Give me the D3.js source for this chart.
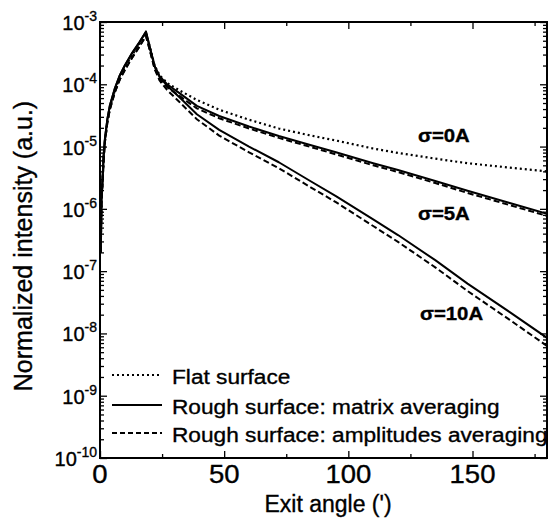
<!DOCTYPE html>
<html>
<head>
<meta charset="utf-8">
<script src="https://cdn.jsdelivr.net/npm/d3@7"></script>
<style>
  body { margin: 0; background: #fff; }
  text { font-family: "Liberation Sans", Arial, sans-serif; fill: #000; stroke: #000; stroke-width: 0.35px; }
</style>
</head>
<body>
<div id="chart"></div>
<script>
// exit angle (deg) shared by all curves
var angles = [0.3, 0.6, 1, 1.5, 2, 3, 4, 6, 8, 10, 13, 16, 18.5, 20, 22, 24, 27, 32, 39, 48, 60, 72, 85, 95, 110, 120, 135, 148, 165, 180];

// flat surface, sigma = 0A (dotted)
var flat0 = [2e-7, 1.4e-6, 2.6e-6, 7e-6, 1.25e-5, 2.6e-5, 4.2e-5, 8e-5, 1.3e-4, 1.85e-4, 3e-4, 4.5e-4, 6.7e-4,
             4.1e-4, 2.0e-4, 1.4e-4, 1.05e-4, 8e-5, 5.6e-5, 3.9e-5, 2.7e-5, 1.95e-5, 1.5e-5, 1.25e-5, 9.3e-6, 7.9e-6, 6.4e-6, 5.4e-6, 4.6e-6, 4.0e-6];

// rough surface, matrix averaging (solid)
var matrix5 = [2e-7, 1.5e-6, 2.9e-6, 7.5e-6, 1.35e-5, 2.8e-5, 4.6e-5, 8.6e-5, 1.4e-4, 2e-4, 3.2e-4, 4.8e-4, 7e-4,
               4e-4, 1.95e-4, 1.35e-4, 1e-4, 7.2e-5, 4.5e-5, 3.1e-5, 2.1e-5, 1.48e-5, 1.05e-5, 8.1e-6, 5.4e-6, 4.2e-6, 2.8e-6, 1.95e-6, 1.24e-6, 8.3e-7];
var matrix10 = [2e-7, 1.5e-6, 2.9e-6, 7.5e-6, 1.35e-5, 2.8e-5, 4.6e-5, 8.6e-5, 1.4e-4, 2e-4, 3.2e-4, 4.8e-4, 7e-4,
                4e-4, 1.95e-4, 1.3e-4, 9.5e-5, 6.2e-5, 3.3e-5, 1.85e-5, 1.0e-5, 5.6e-6, 2.75e-6, 1.6e-6, 6.8e-7, 3.8e-7, 1.5e-7, 6.3e-8, 2.2e-8, 8.5e-9];

// rough surface, amplitudes averaging (dashed)
var ampl5 = [2e-7, 1.3e-6, 2.5e-6, 6.6e-6, 1.2e-5, 2.5e-5, 4e-5, 7.5e-5, 1.2e-4, 1.7e-4, 2.7e-4, 4.1e-4, 6.0e-4,
             3.6e-4, 1.8e-4, 1.22e-4, 9e-5, 6.5e-5, 4.1e-5, 2.85e-5, 1.95e-5, 1.38e-5, 9.8e-6, 7.5e-6, 5.0e-6, 3.9e-6, 2.6e-6, 1.8e-6, 1.15e-6, 7.7e-7];
var ampl10 = [2e-7, 1.3e-6, 2.5e-6, 6.6e-6, 1.2e-5, 2.5e-5, 4e-5, 7.5e-5, 1.2e-4, 1.7e-4, 2.7e-4, 4.1e-4, 6.0e-4,
              3.6e-4, 1.75e-4, 1.15e-4, 8.1e-5, 5.2e-5, 2.75e-5, 1.5e-5, 8.1e-6, 4.5e-6, 2.2e-6, 1.28e-6, 5.3e-7, 2.95e-7, 1.15e-7, 4.8e-8, 1.65e-8, 6.3e-9];

var xTicks = [0, 50, 100, 150];
var xMinor = [25, 75, 125, 175];
var yExponents = [-3, -4, -5, -6, -7, -8, -9, -10];

var legendLabels = ["Flat surface", "Rough surface: matrix averaging", "Rough surface: amplitudes averaging"];
var sigmaLabels = ["\u03c3=0A", "\u03c3=5A", "\u03c3=10A"];

var W = 550, H = 529;
var plot = {left: 100, right: 547, top: 22, bottom: 458};

var svg = d3.select("#chart").append("svg")
    .attr("width", W)
    .attr("height", H);

var x = d3.scaleLinear().domain([0, 180]).range([plot.left, plot.right]);
var y = d3.scaleLog().domain([1e-10, 1e-3]).range([plot.bottom, plot.top]);

svg.append("clipPath").attr("id", "clip")
    .append("rect")
    .attr("x", plot.left).attr("y", plot.top)
    .attr("width", plot.right - plot.left)
    .attr("height", plot.bottom - plot.top);

// minor log ticks
var yMinor = [];
for (var e = -10; e < -3; e++) {
    for (var k = 2; k <= 9; k++) yMinor.push(k * Math.pow(10, e));
}
var yMajor = yExponents.map(function(p) { return Math.pow(10, p); });

function tickAxis(axis, tx, ty) {
    var g = svg.append("g")
        .attr("transform", "translate(" + tx + "," + ty + ")")
        .call(axis);
    g.select(".domain").remove();
    g.selectAll("line").attr("stroke", "#000").attr("stroke-width", 1.3);
    g.selectAll("text").remove();
    return g;
}

tickAxis(d3.axisBottom(x).tickValues(xTicks).tickSize(-7).tickFormat(""), 0, plot.bottom);
tickAxis(d3.axisBottom(x).tickValues(xMinor).tickSize(-4).tickFormat(""), 0, plot.bottom);
tickAxis(d3.axisTop(x).tickValues(xTicks).tickSize(-7).tickFormat(""), 0, plot.top);
tickAxis(d3.axisTop(x).tickValues(xMinor).tickSize(-4).tickFormat(""), 0, plot.top);
tickAxis(d3.axisLeft(y).tickValues(yMajor).tickSize(-7).tickFormat(""), plot.left, 0);
tickAxis(d3.axisLeft(y).tickValues(yMinor).tickSize(-4).tickFormat(""), plot.left, 0);
tickAxis(d3.axisRight(y).tickValues(yMajor).tickSize(-7).tickFormat(""), plot.right, 0);
tickAxis(d3.axisRight(y).tickValues(yMinor).tickSize(-4).tickFormat(""), plot.right, 0);

// curves
var line = d3.line()
    .x(function(d) { return x(d[0]); })
    .y(function(d) { return y(d[1]); });

var series = [
    {values: flat0, dash: "2,3", width: 2.2},
    {values: matrix5, dash: null, width: 2},
    {values: matrix10, dash: null, width: 2},
    {values: ampl5, dash: "6,3", width: 2},
    {values: ampl10, dash: "6,3", width: 2}
];

var curves = svg.append("g").attr("clip-path", "url(#clip)");
series.forEach(function(s) {
    curves.append("path")
        .datum(angles.map(function(a, i) { return [a, s.values[i]]; }))
        .attr("d", line)
        .attr("fill", "none")
        .attr("stroke", "#000")
        .attr("stroke-width", s.width)
        .attr("stroke-linejoin", "round")
        .attr("stroke-dasharray", s.dash);
});

// frame
svg.append("rect")
    .attr("x", plot.left).attr("y", plot.top)
    .attr("width", plot.right - plot.left)
    .attr("height", plot.bottom - plot.top)
    .attr("fill", "none")
    .attr("stroke", "#000")
    .attr("stroke-width", 2);

// helper for slightly widened text, like the scanned figure
function label(parent, str, tx, ty, size, sx, anchor, weight) {
    return parent.append("text")
        .attr("transform", "translate(" + tx + "," + ty + ") scale(" + sx + ",1)")
        .attr("text-anchor", anchor || "start")
        .style("font-size", size + "px")
        .style("font-weight", weight || "normal")
        .text(str);
}

// x tick labels
xTicks.forEach(function(v) {
    label(svg, String(v), x(v), 483, 25, 1.1, "middle");
});

// y tick labels 10^n
yExponents.forEach(function(p) {
    var t = svg.append("text")
        .attr("x", 97)
        .attr("y", y(Math.pow(10, p)) + 8)
        .attr("text-anchor", "end")
        .style("font-size", "20px");
    t.append("tspan").text("10");
    t.append("tspan").attr("dy", -9).style("font-size", "14px").text(String(p));
});

// axis titles
svg.append("text")
    .attr("x", 328).attr("y", 512)
    .attr("text-anchor", "middle")
    .style("font-size", "23px")
    .text("Exit angle (')");

svg.append("text")
    .attr("transform", "translate(32,246) rotate(-90)")
    .attr("text-anchor", "middle")
    .style("font-size", "25px")
    .text("Normalized intensity (a.u.)");

// legend
var legendY = [375, 405, 433];
var legendDash = ["2,3", null, "5,3"];
var leg = svg.append("g").attr("clip-path", "url(#clip)");
legendLabels.forEach(function(txt, i) {
    leg.append("line")
        .attr("x1", 112).attr("x2", 162)
        .attr("y1", legendY[i]).attr("y2", legendY[i])
        .attr("stroke", "#000")
        .attr("stroke-width", 2)
        .attr("stroke-dasharray", legendDash[i]);
    label(leg, txt, 172, legendY[i] + 9, 21, 1.08, "start");
});

// sigma annotations
var sigmaPos = [[418, 142], [418, 220], [420, 320]];
sigmaLabels.forEach(function(txt, i) {
    label(svg, txt, sigmaPos[i][0], sigmaPos[i][1], 18.5, 1.1, "start", "bold");
});
</script>
</body>
</html>
